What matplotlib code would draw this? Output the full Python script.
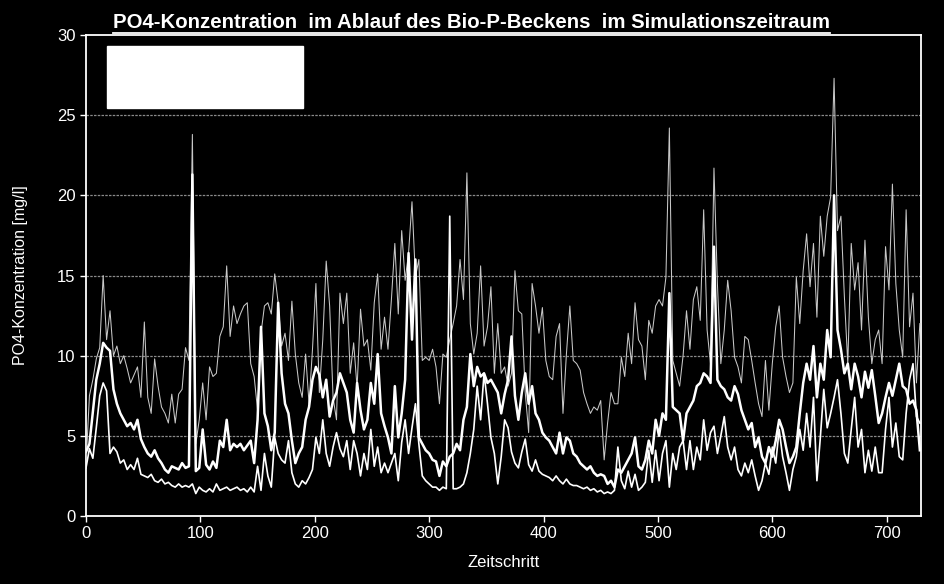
import numpy as np
import matplotlib
matplotlib.use("Agg")
import matplotlib.pyplot as plt
from matplotlib import font_manager
from matplotlib.patches import Rectangle
from matplotlib.lines import Line2D

# ---- data (one value every 3 time steps) ----
step = 3
series_a = [
    3.2, 7.5, 8.5, 9.8, 10.5, 15.0, 11.0, 12.8, 10.0, 10.6,
    9.5, 10.0, 9.2, 8.3, 8.8, 9.3, 7.4, 12.1, 7.4, 6.4,
    9.8, 8.1, 6.8, 6.4, 5.8, 7.6, 5.8, 7.6, 7.9, 10.5,
    9.7, 23.8, 4.5, 6.0, 8.3, 6.0, 9.3, 8.7, 8.9, 11.2,
    11.8, 15.6, 11.2, 13.1, 12.0, 12.6, 13.1, 13.3, 9.5, 8.7,
    6.6, 11.4, 13.1, 13.3, 12.6, 15.1, 13.3, 10.6, 11.4, 9.7,
    13.4, 10.1, 8.3, 7.4, 10.1, 7.0, 10.4, 14.5, 7.7, 11.0,
    15.9, 13.1, 7.4, 6.0, 13.9, 12.0, 13.9, 8.9, 10.8, 8.0,
    12.9, 10.6, 11.0, 9.1, 13.3, 15.1, 10.4, 12.4, 10.4, 13.5,
    17.0, 12.6, 17.8, 14.7, 16.4, 19.6, 14.9, 16.0, 9.7, 9.9,
    9.7, 10.4, 9.3, 7.0, 10.1, 9.9, 11.0, 12.0, 13.1, 16.0,
    13.5, 21.4, 12.0, 10.1, 11.4, 15.6, 10.6, 11.8, 14.3, 8.9,
    12.0, 8.9, 9.3, 8.1, 8.9, 15.3, 12.8, 12.6, 7.7, 5.2,
    14.5, 13.1, 11.4, 13.0, 9.7, 8.7, 8.5, 11.2, 12.0, 6.4,
    10.1, 13.1, 9.7, 9.5, 9.1, 7.7, 7.0, 6.4, 6.8, 6.6,
    7.2, 3.5, 5.8, 7.7, 7.0, 7.0, 9.9, 8.7, 11.4, 9.5,
    13.3, 11.0, 10.6, 8.5, 12.2, 11.4, 13.1, 13.5, 13.1, 14.9,
    24.2, 9.7, 8.9, 8.1, 10.0, 12.8, 10.4, 13.5, 14.3, 12.2,
    19.1, 11.6, 9.5, 21.7, 14.5, 9.5, 11.6, 14.7, 12.8, 9.9,
    9.3, 8.3, 11.2, 11.0, 9.7, 8.3, 7.0, 6.2, 9.7, 6.6,
    9.5, 11.8, 13.1, 9.9, 8.7, 7.7, 8.3, 14.9, 12.0, 15.3,
    17.6, 14.3, 17.0, 12.4, 18.7, 16.2, 18.7, 19.9, 27.3, 17.8,
    18.7, 13.7, 9.5, 17.0, 14.1, 15.8, 11.6, 17.2, 12.4, 9.5,
    11.0, 11.6, 9.5, 16.8, 14.1, 20.7, 14.5, 11.6, 9.9, 19.1,
    11.8, 13.9, 8.3, 12.0,
]
series_b = [
    4.0, 4.5, 6.5, 8.5, 9.5, 10.8, 10.5, 10.3, 7.9, 7.0,
    6.4, 6.0, 5.6, 5.8, 5.4, 6.0, 4.8, 4.3, 3.9, 3.7,
    4.1, 3.6, 3.3, 2.9, 2.7, 3.1, 3.0, 2.9, 3.3, 3.0,
    3.1, 21.3, 2.8, 3.0, 5.4, 3.2, 2.9, 3.4, 3.0, 4.7,
    4.3, 6.0, 4.1, 4.5, 4.3, 4.5, 4.1, 4.4, 4.7, 3.3,
    6.0, 11.8, 6.4, 5.6, 4.1, 5.2, 13.3, 8.9, 7.0, 6.4,
    4.7, 3.3, 3.9, 4.3, 6.0, 6.8, 8.5, 9.3, 8.8, 7.4,
    8.5, 6.2, 7.2, 7.7, 8.9, 8.3, 7.7, 6.0, 5.2, 8.3,
    6.6, 5.4, 6.0, 8.3, 7.0, 10.1, 6.4, 5.6, 4.9, 3.9,
    8.1, 4.9, 6.4, 8.5, 16.4, 11.0, 16.0, 4.9, 4.5, 4.1,
    3.9, 3.5, 3.4, 2.5, 3.4, 3.1, 3.7, 3.9, 4.5, 4.1,
    6.0, 6.8, 10.1, 8.1, 9.3, 8.7, 8.9, 8.3, 8.5, 8.1,
    7.7, 6.4, 7.6, 8.5, 11.2, 7.5, 6.0, 7.7, 8.9, 7.0,
    8.1, 6.4, 6.0, 5.2, 4.9, 4.7, 4.3, 3.9, 5.2, 3.9,
    4.9, 4.7, 3.9, 3.7, 3.3, 3.1, 2.9, 3.1, 2.7, 2.5,
    2.6, 2.5, 2.0, 2.2, 1.8, 2.9, 2.7, 3.1, 3.5, 3.9,
    4.9, 3.1, 2.9, 3.5, 4.7, 3.9, 6.0, 5.0, 6.4, 6.0,
    13.9, 6.8, 6.6, 6.4, 4.7, 6.4, 6.8, 7.2, 8.1, 8.3,
    8.9, 8.7, 8.3, 16.8, 8.5, 8.1, 7.9, 7.4, 7.2, 8.1,
    7.6, 6.6, 6.0, 5.4, 5.8, 4.3, 4.9, 3.7, 3.3, 4.3,
    3.7, 4.7, 6.0, 5.4, 4.3, 3.3, 3.7, 4.3, 6.4, 8.3,
    9.5, 8.5, 10.6, 7.4, 9.5, 8.5, 11.6, 9.9, 20.0, 11.6,
    10.4, 8.9, 9.5, 7.9, 9.5, 8.7, 7.4, 9.0, 8.0, 9.1,
    7.5, 5.8, 6.4, 7.4, 8.3, 7.5, 8.5, 9.5, 8.1, 7.9,
    7.0, 7.2, 6.6, 4.1,
]
series_c = [
    3.0, 4.2, 3.6, 5.5, 7.5, 8.3, 7.8, 3.9, 4.3, 4.0,
    3.3, 3.5, 2.9, 3.2, 2.9, 3.6, 2.6, 2.5, 2.4, 2.6,
    2.2, 2.1, 2.3, 2.0, 2.1, 1.9, 1.8, 2.0, 1.8, 1.9,
    1.8, 2.0, 1.4, 1.8, 1.6, 1.5, 1.7, 1.5, 2.0, 1.6,
    1.7, 1.8, 1.6, 1.7, 1.8, 1.6, 1.7, 1.5, 1.8, 1.5,
    3.1, 1.6, 3.9, 2.5, 1.8, 4.9, 3.9, 3.5, 3.3, 4.7,
    2.7, 2.0, 1.8, 2.2, 2.0, 2.4, 2.9, 4.9, 3.9, 6.0,
    3.9, 3.1, 4.3, 5.2, 4.2, 3.7, 4.7, 2.9, 4.7, 3.9,
    2.5, 3.9, 2.9, 5.4, 3.1, 4.3, 2.7, 3.3, 2.7, 3.3,
    3.9, 2.2, 4.6, 6.0, 3.9, 5.5, 7.0, 4.5, 2.5, 2.2,
    2.0, 1.8, 1.8, 1.6, 1.8, 1.7, 18.7, 1.7, 1.7, 1.8,
    2.0, 2.7, 3.9, 5.4, 8.1, 6.0, 8.9, 7.0, 4.9, 3.9,
    2.0, 3.7, 6.0, 5.5, 4.0, 3.3, 3.0, 4.0, 4.8, 3.2,
    2.8, 3.5, 2.8, 2.6, 2.5, 2.4, 2.2, 2.5, 2.2, 2.0,
    2.3, 2.0, 1.9, 1.9, 1.8, 1.7, 1.8, 1.6, 1.7, 1.5,
    1.6, 1.4, 1.5, 1.4, 1.6, 4.3, 2.2, 1.7, 2.8, 1.8,
    2.6, 1.6, 1.8, 2.1, 4.1, 2.1, 4.1, 2.2, 3.9, 4.7,
    1.8, 3.9, 2.9, 4.3, 4.7, 2.9, 4.7, 2.9, 4.3, 3.5,
    6.0, 4.1, 5.2, 5.6, 3.9, 5.0, 6.2, 4.3, 3.5, 4.3,
    2.9, 2.5, 3.3, 2.7, 3.5, 2.5, 1.6, 2.2, 3.3, 2.6,
    4.3, 3.3, 5.4, 3.7, 2.7, 1.6, 2.9, 3.7, 5.4, 4.1,
    6.4, 4.3, 7.4, 2.2, 4.9, 7.9, 5.5, 6.4, 7.4, 8.5,
    6.4, 3.9, 3.3, 5.4, 7.4, 4.3, 5.4, 2.7, 4.1, 2.8,
    4.3, 2.7, 2.7, 5.4, 7.4, 4.3, 5.8, 3.7, 3.5, 6.4,
    8.5, 9.5, 6.2, 5.8,
]
x_ticks = [0, 100, 200, 300, 400, 500, 600, 700]
y_ticks = [0, 5, 10, 15, 20, 25, 30]
title = "PO4-Konzentration  im Ablauf des Bio-P-Beckens  im Simulationszeitraum"
xlabel = "Zeitschritt"
ylabel = "PO4-Konzentration [mg/l]"

# ---- fonts ----
names = {f.name for f in font_manager.fontManager.ttflist}
narrow = "Liberation Sans Narrow" if "Liberation Sans Narrow" in names else "Liberation Sans"
plt.rcParams["font.family"] = [narrow, "DejaVu Sans"]

fig = plt.figure(figsize=(9.44, 5.84), dpi=100, facecolor="black")
ax = fig.add_axes([86 / 944, 68 / 584, 835 / 944, 481 / 584], facecolor="black")

xa = np.arange(len(series_a)) * step
xb = np.arange(len(series_b)) * step
xc = np.arange(len(series_c)) * step

ax.plot(xa, series_a, color="#c8c8c8", lw=0.75, zorder=3)
ax.plot(xc, series_c, color="white", lw=1.2, zorder=4)
ax.plot(xb, series_b, color="white", lw=1.8, zorder=5)

ax.set_xlim(0, 730)
ax.set_ylim(0, 30)
ax.set_xticks(x_ticks)
ax.set_yticks(y_ticks)
ax.tick_params(colors="white", labelsize=12, length=4, width=1, direction="out")
for lab in ax.get_xticklabels() + ax.get_yticklabels():
    lab.set_color("white")
for s in ax.spines.values():
    s.set_color("white")
    s.set_linewidth(1.3)

for yv in y_ticks[1:-1]:
    ax.axhline(yv, color="#8a8a8a", lw=0.9, ls=(0, (2, 1)), zorder=1)

ax.set_xlabel(xlabel, color="white", fontsize=12, labelpad=10)
ax.set_ylabel(ylabel, color="white", fontsize=11.5, labelpad=21)

# empty legend box
ax.add_patch(Rectangle((0.025, 0.848), 0.235, 0.129, transform=ax.transAxes,
                       facecolor="white", edgecolor="white", zorder=6))

t = fig.text(0.4995, 0.962, title, color="white", fontsize=14.7, fontweight="bold",
             ha="center", va="center")
fig.canvas.draw()
bb = t.get_window_extent()
inv = fig.transFigure.inverted()
(x0, y0), (x1, _) = inv.transform([(bb.x0, bb.y0 - 1), (bb.x1, bb.y0)])
fig.add_artist(Line2D([x0, x1], [y0, y0], transform=fig.transFigure, color="white", lw=1.3))

fig.savefig("out.png", dpi=100, facecolor="black")
